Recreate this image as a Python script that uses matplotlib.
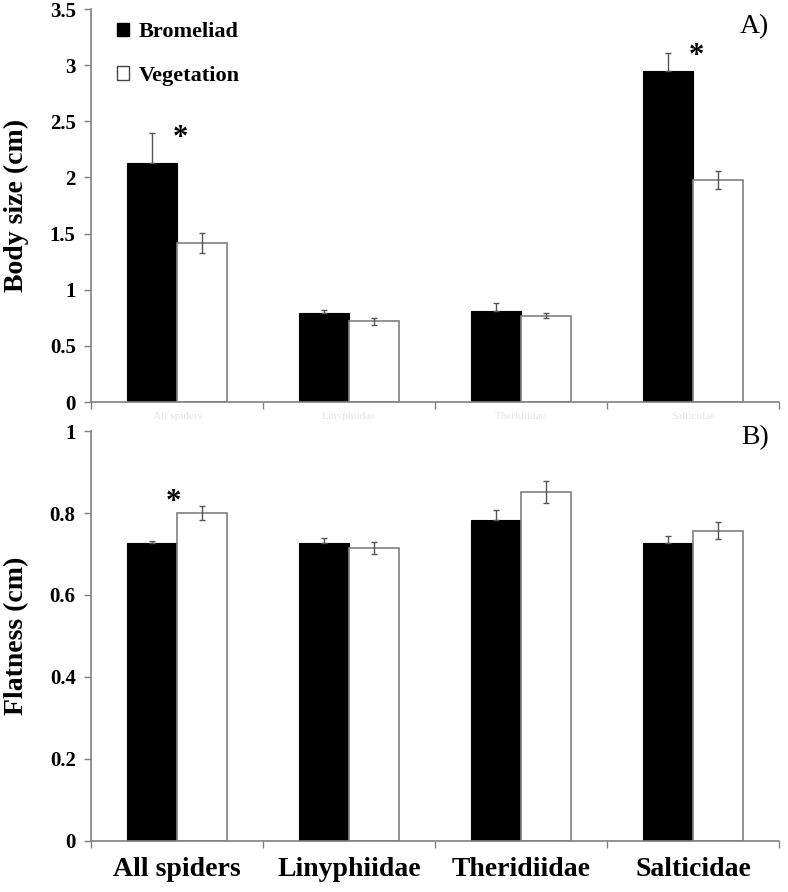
import numpy as np
import matplotlib
matplotlib.use("Agg")
import matplotlib.pyplot as plt
from matplotlib.patches import Patch

plt.rcParams['font.family'] = ['Liberation Serif', 'DejaVu Serif']

# datos
categorias = ["All spiders", "Linyphiidae", "Theridiidae", "Salticidae"]

talla_brom = [2.13, 0.79, 0.81, 2.95]
talla_brom_err = [0.27, 0.03, 0.07, 0.16]
talla_veg = [1.415, 0.72, 0.77, 1.98]
talla_veg_err = [0.09, 0.03, 0.025, 0.08]

plano_brom = [0.728, 0.726, 0.784, 0.727]
plano_brom_err = [0.004, 0.012, 0.023, 0.018]
plano_veg = [0.799, 0.715, 0.852, 0.757]
plano_veg_err = [0.017, 0.014, 0.027, 0.020]

# asteriscos de significancia (indice de categoria, altura)
sig_talla = [(0, 2.35), (3, 3.08)]
sig_plano = [(0, 0.826)]

gris = "#808080"
ancho = 0.29
x = np.arange(len(categorias))

fig = plt.figure(figsize=(7.88, 8.92), dpi=100)
ax1 = fig.add_axes([0.1155, 0.5493, 0.873, 0.4406])
ax2 = fig.add_axes([0.1155, 0.0572, 0.873, 0.4596])


def barras(ax, brom, brom_err, veg, veg_err):
    # en las barras negras solo se ve la mitad superior del error
    ax.bar(x - ancho / 2, brom, ancho, color="black", edgecolor="black", linewidth=0.8,
           yerr=[np.zeros(len(brom)), brom_err],
           error_kw=dict(ecolor="#555555", elinewidth=1, capsize=2.5, capthick=1))
    ax.bar(x + ancho / 2, veg, ancho, color="white", edgecolor=gris, linewidth=1.2,
           yerr=veg_err, error_kw=dict(ecolor="#555555", elinewidth=1, capsize=2.5, capthick=1))
    ax.set_xlim(-0.5, len(categorias) - 0.5)
    ax.spines['top'].set_visible(False)
    ax.spines['right'].set_visible(False)
    ax.spines['left'].set_color(gris)
    ax.spines['bottom'].set_color(gris)
    ax.spines['left'].set_linewidth(1.2)
    ax.spines['bottom'].set_linewidth(1.2)
    ax.tick_params(axis='y', colors=gris, length=5, width=1, labelcolor="black",
                   labelsize=15, pad=6)
    # marcas en los limites entre categorias
    ax.set_xticks(np.arange(len(categorias) + 1) - 0.5)
    ax.set_xticklabels([])
    ax.tick_params(axis='x', colors=gris, length=5, width=1)


barras(ax1, talla_brom, talla_brom_err, talla_veg, talla_veg_err)
ax1.set_ylim(0, 3.5)
ax1.set_yticks(np.arange(0, 3.51, 0.5))
ax1.set_yticklabels(["0", "0.5", "1", "1.5", "2", "2.5", "3", "3.5"], fontweight="bold")
ax1.set_ylabel("Body size (cm)", fontsize=20, fontweight="bold")
ax1.yaxis.set_label_coords(-0.09, 0.5)
ax1.text(0.985, 0.955, "A)", transform=ax1.transAxes, fontsize=20, ha="right", va="center")
for i, h in sig_talla:
    ax1.text(x[i] + 0.02, h, "*", fontsize=22, fontweight="bold", ha="center", va="center")
# etiquetas tenues bajo el panel A
for xi, c in zip(x, categorias):
    ax1.text(xi, -0.13, c, fontsize=8, color="#e4e4e4", ha="center", va="center")

leyenda = [Patch(facecolor="black", edgecolor="black", label="Bromeliad"),
           Patch(facecolor="white", edgecolor="#444444", label="Vegetation")]
ax1.legend(handles=leyenda, loc="upper left", bbox_to_anchor=(0.018, 1.0), frameon=False,
           prop=dict(size=16, weight="bold"), handlelength=0.55, handleheight=0.55,
           handletextpad=0.45, labelspacing=1.05, borderaxespad=0.2)

barras(ax2, plano_brom, plano_brom_err, plano_veg, plano_veg_err)
ax2.set_ylim(0, 1)
ax2.set_yticks(np.arange(0, 1.01, 0.2))
ax2.set_yticklabels(["0", "0.2", "0.4", "0.6", "0.8", "1"], fontweight="bold")
ax2.set_ylabel("Flatness (cm)", fontsize=20, fontweight="bold")
ax2.yaxis.set_label_coords(-0.09, 0.5)
ax2.text(0.985, 0.985, "B)", transform=ax2.transAxes, fontsize=20, ha="right", va="center")
for i, h in sig_plano:
    ax2.text(x[i] - 0.02, h, "*", fontsize=22, fontweight="bold", ha="center", va="center")
for xi, c in zip(x, categorias):
    ax2.text(xi, -0.07, c, fontsize=20, fontweight="bold", ha="center", va="center")

fig.savefig("out.png", dpi=100)
